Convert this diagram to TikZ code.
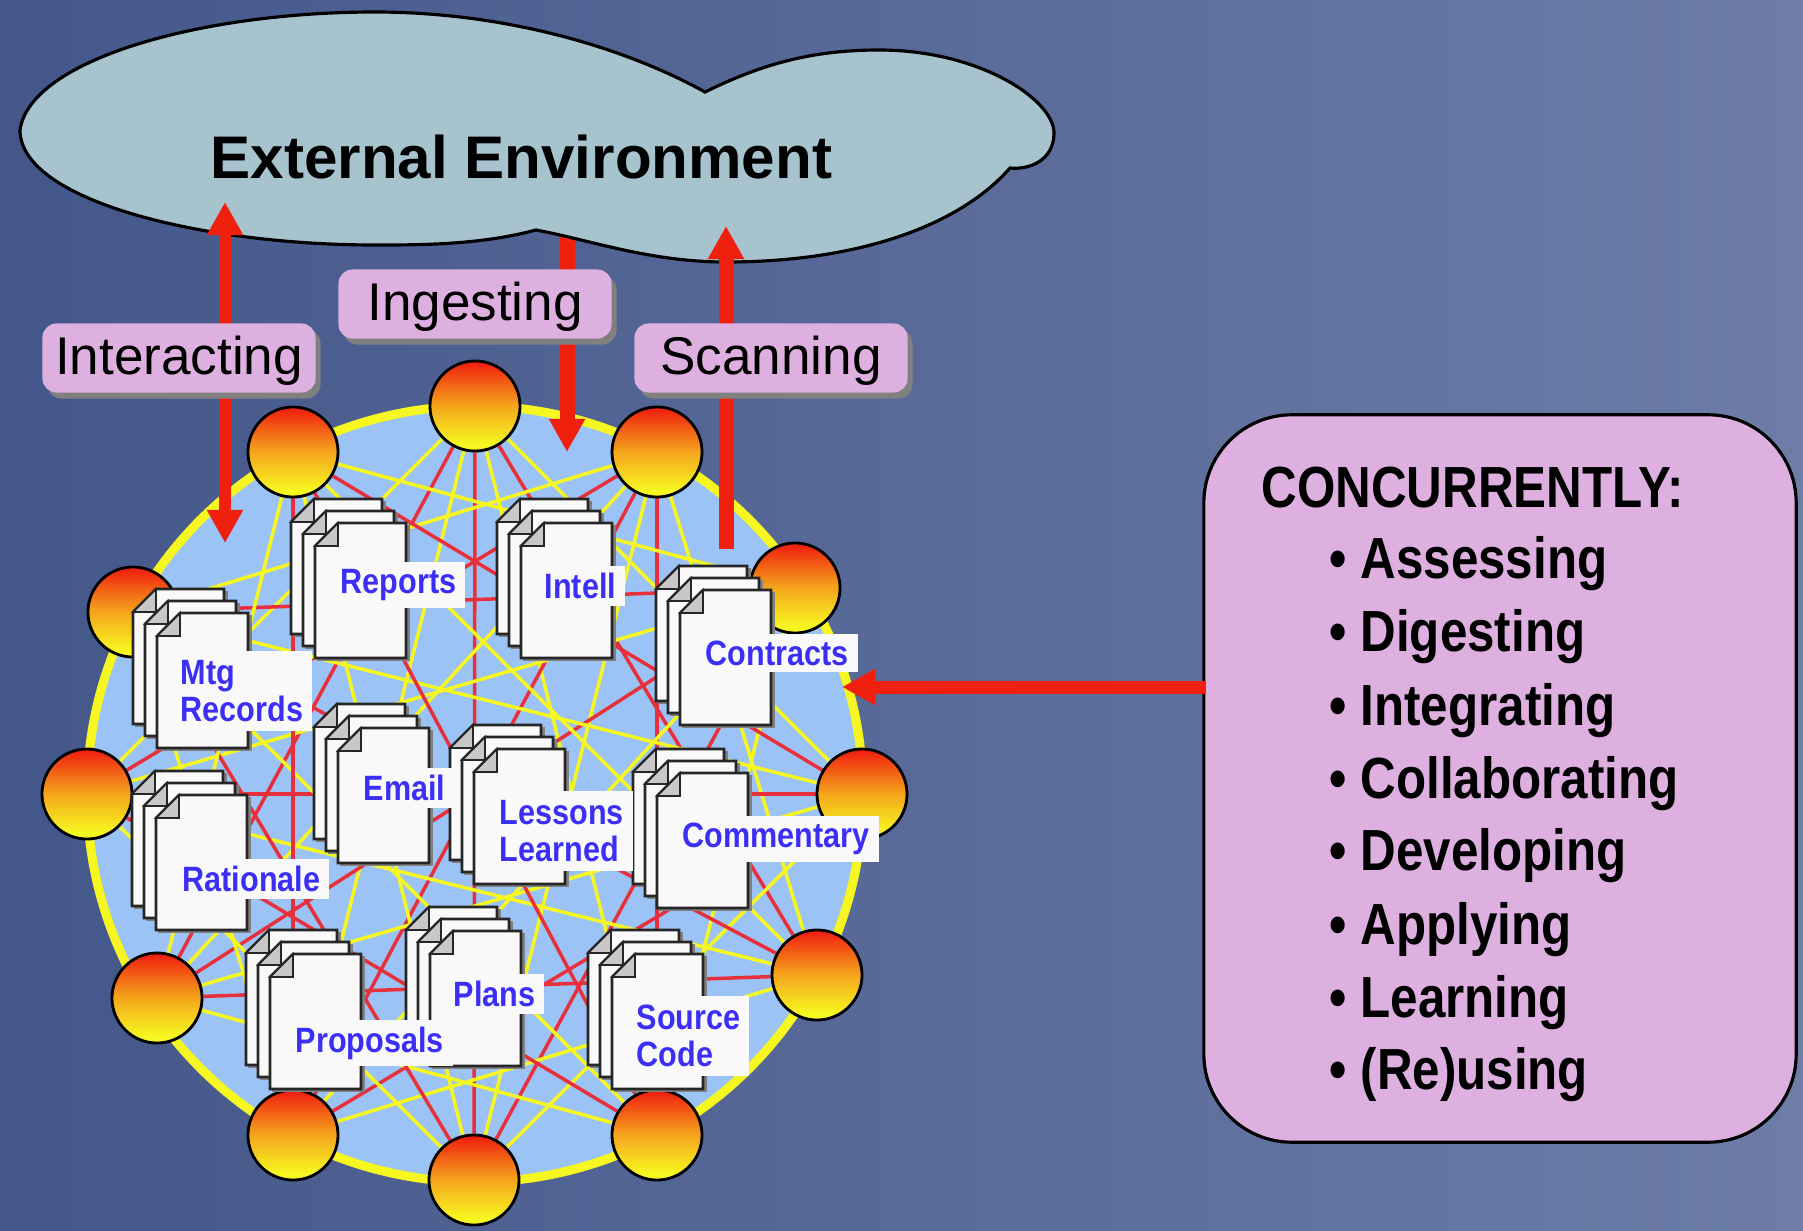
\documentclass[tikz,border=0pt]{standalone}
\usepackage{fontspec}
\usepackage{tikz}
\usetikzlibrary{arrows.meta,backgrounds,shadows}
\setmainfont{Liberation Sans}
\newfontfamily\narrowfont[FakeStretch=0.87]{Liberation Sans}
\newfontfamily\listfont[FakeStretch=0.85]{Liberation Sans}

\definecolor{bgleft}{HTML}{44578A}
\definecolor{bgright}{HTML}{6D7DA8}
\definecolor{cloudblue}{HTML}{A7C3CE}
\definecolor{pillpink}{HTML}{DDB0E0}
\definecolor{discblue}{HTML}{9CC3F5}
\definecolor{ringyellow}{HTML}{F6F620}
\definecolor{arrowred}{HTML}{F0200F}
\definecolor{linkred}{HTML}{E8303C}
\definecolor{hubmid}{HTML}{F5A61C}
\definecolor{pagewhite}{HTML}{F9F9F9}
\definecolor{earwhite}{HTML}{C8C8C8}
\definecolor{labelblue}{HTML}{3C2FF5}

\pgfdeclareverticalshading{hubshade}{100bp}{color(0bp)=(ringyellow); color(29bp)=(ringyellow); color(50bp)=(hubmid); color(74bp)=(arrowred); color(100bp)=(arrowred)}

\tikzset{
  hub/.style={circle,draw=black,line width=0.8pt,minimum size=0.9cm,inner sep=0pt,shade,shading=hubshade},
  yellowlink/.style={ringyellow,line width=1pt},
  redlink/.style={linkred,line width=1pt},
  bigarrow/.style={arrowred,line width=0.15cm,-{Triangle[length=0.33cm,width=0.34cm]}},
  pill/.style={fill=pillpink,rounded corners=4pt,minimum width=2.73cm,minimum height=0.69cm,
    inner sep=0pt,text height=11pt,text depth=1.5pt,font=\fontsize{15.1}{18}\selectfont,
    copy shadow={shadow xshift=1.4pt,shadow yshift=-1.7pt,fill=gray,draw=none}},
  doclabel/.style={fill=pagewhite,text=labelblue,anchor=west,align=left,
    inner xsep=0.09cm,inner ysep=0.07cm,font=\narrowfont\bfseries\fontsize{10}{10.6}\selectfont},
  doclabeltwo/.style={doclabel,inner ysep=0.09cm},
  listline/.style={anchor=base west,inner sep=0pt,font=\listfont\bfseries\fontsize{16.5}{18}\selectfont},
  docstack/.pic={
    \foreach \off in {-24,-12,0} {
      \begin{scope}[shift={(\off,\off)}]
        \draw[gray,line width=1.1pt] (93,2) -- (93,136) -- (2,136);
        \draw[fill=pagewhite,draw=black!85,line width=0.8pt] (0,23) -- (23,0) -- (91,0) -- (91,135) -- (0,135) -- cycle;
        \draw[fill=earwhite,draw=black!85,line width=0.5pt] (0,23) -- (23,0) -- (23,23) -- cycle;
      \end{scope}
    }
  }
}

\begin{document}
\begin{tikzpicture}[x=0.01cm,y=-0.01cm]
    \useasboundingbox (0,0) rectangle (1803,1230);
    % Arrow ends
    \coordinate (interacttop) at (225,202);
    \coordinate (interactbot) at (225,543);
    \coordinate (ingesttop) at (567,225);
    \coordinate (ingestbot) at (567,452);
    \coordinate (scantop) at (726,226);
    \coordinate (scanbot) at (726,549);
    \coordinate (boxtip) at (842,687);
    % Ingesting arrow runs out from under the cloud
    \draw[bigarrow] (ingesttop) -- (ingestbot);
    % External environment cloud
    \draw[fill=cloudblue,draw=black,line width=0.9pt] (20,130)
        .. controls (30,60) and (200,12) .. (375,12)
        .. controls (500,12) and (620,45) .. (705,92)
        .. controls (760,65) and (810,50) .. (879,50)
        .. controls (980,50) and (1054,100) .. (1054,133)
        .. controls (1054,160) and (1030,170) .. (1010,168)
        .. controls (960,225) and (860,262) .. (726,262)
        .. controls (650,262) and (590,240) .. (536,230)
        .. controls (480,245) and (420,245) .. (375,245)
        .. controls (200,245) and (20,200) .. (20,130) -- cycle;
    \node[anchor=base west,inner sep=0pt,font=\bfseries\fontsize{17.1}{20}\selectfont] (envtitle) at (210,178) {External Environment};
    % Hubs round the disc
    \node[hub] (hub0) at (475,406) {};
    \node[hub] (hub1) at (657,452) {};
    \node[hub] (hub2) at (795,588) {};
    \node[hub] (hub3) at (862,794) {};
    \node[hub] (hub4) at (817,975) {};
    \node[hub] (hub5) at (657,1135) {};
    \node[hub] (hub6) at (474,1180) {};
    \node[hub] (hub7) at (293,1135) {};
    \node[hub] (hub8) at (157,998) {};
    \node[hub] (hub9) at (87,794) {};
    \node[hub] (hub10) at (133,612) {};
    \node[hub] (hub11) at (293,452) {};
    % Page background, disc and links
    \begin{scope}[on background layer]
        \shade[left color=bgleft,right color=bgright] (0,0) rectangle (1803,1230);
        \draw[fill=discblue,draw=ringyellow,line width=0.09cm] (475,794) circle (388);
        \foreach \i in {0,...,8} {
            \foreach \gap in {3,...,9} {
                \pgfmathtruncatemacro{\j}{\i+\gap}
                \ifnum\j<12
                    \ifodd\gap \def\linkstyle{yellowlink}\else \def\linkstyle{redlink}\fi
                    \draw[\linkstyle] (hub\i) -- (hub\j);
                \fi
            }
        }
    \end{scope}
    % Arrows
    \draw[bigarrow,line width=0.12cm,{Triangle[length=0.33cm,width=0.34cm]}-{Triangle[length=0.33cm,width=0.34cm]}] (interacttop) -- (interactbot);
    \draw[bigarrow] (scanbot) -- (scantop);
    % Document stacks
    \pic at (157,613) {docstack};
    \pic at (315,523) {docstack};
    \pic at (521,523) {docstack};
    \pic at (680,590) {docstack};
    \pic at (338,728) {docstack};
    \pic at (474,749) {docstack};
    \pic at (657,773) {docstack};
    \pic at (156,795) {docstack};
    \pic at (270,954) {docstack};
    \pic at (430,931) {docstack};
    \pic at (612,954) {docstack};
    % Document labels
    \node[doclabeltwo] (mtglabel) at (171,691) {Mtg\\Records};
    \node[doclabel] (reportslabel) at (331,585) {Reports};
    \node[doclabel] (intelllabel) at (535,586) {Intell};
    \node[doclabel] (contractslabel) at (696,653) {Contracts};
    \node[doclabel] (emaillabel) at (354,788) {Email};
    \node[doclabeltwo] (lessonslabel) at (490,831) {Lessons\\Learned};
    \node[doclabel] (commentarylabel) at (673,839) {Commentary};
    \node[doclabel] (rationalelabel) at (173,879) {Rationale};
    \node[doclabel] (proposalslabel) at (286,1043) {Proposals};
    \node[doclabel] (planslabel) at (444,994) {Plans};
    \node[doclabeltwo] (sourcelabel) at (627,1036) {Source\\Code};
    % Activity labels
    \node[pill] (interacting) at (179,358) {Interacting};
    \node[pill] (ingesting) at (475,304) {Ingesting};
    \node[pill] (scanning) at (771,358) {Scanning};
    % Concurrent activities box
    \node[fill=pillpink,draw=black,line width=0.9pt,rounded corners=0.88cm,minimum width=5.92cm,minimum height=7.27cm] (actbox) at (1500,778.5) {};
    \draw[bigarrow,line width=0.13cm,shorten <=-0.04cm] (actbox.west |- boxtip) -- (boxtip);
    \node[listline] (acttitle) at (1261,507) {CONCURRENTLY:};
    \node[listline] (assessing) at (1329,578) {• Assessing};
    \node[listline] (digesting) at (1329,651) {• Digesting};
    \node[listline] (integrating) at (1329,725) {• Integrating};
    \node[listline] (collaborating) at (1329,798) {• Collaborating};
    \node[listline] (developing) at (1329,870) {• Developing};
    \node[listline] (applying) at (1329,944) {• Applying};
    \node[listline] (learning) at (1329,1017) {• Learning};
    \node[listline] (reusing) at (1329,1089) {• (Re)using};
\end{tikzpicture}
\end{document}
